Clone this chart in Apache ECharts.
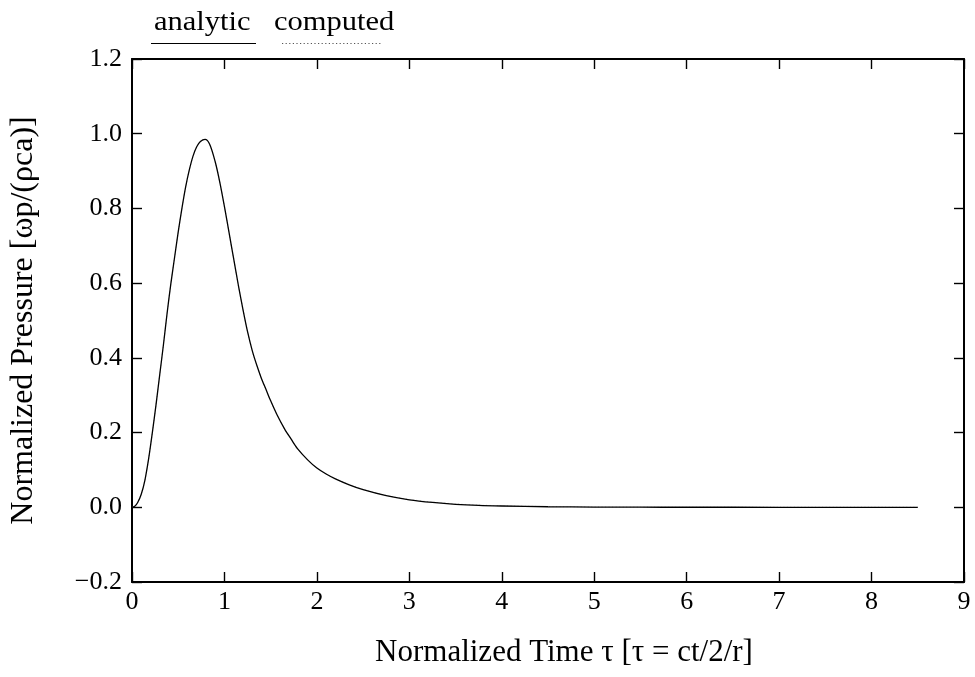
<!DOCTYPE html>
<html>
<head>
<meta charset="utf-8">
<script src="https://cdn.jsdelivr.net/npm/echarts@6/dist/echarts.min.js"></script>
<style>
html,body{margin:0;padding:0;background:#fff;}
#chart{width:975px;height:677px;}
</style>
</head>
<body>
<div id="chart"></div>
<script>
// Normalized time values (x)
var tau = [0, 0.03, 0.06, 0.10, 0.14, 0.18, 0.22, 0.26, 0.30, 0.34, 0.38, 0.42, 0.46, 0.50, 0.54, 0.58, 0.62, 0.66, 0.70, 0.74, 0.79, 0.84, 0.90, 0.95, 1.00, 1.05, 1.10, 1.15, 1.20, 1.25, 1.30, 1.35, 1.40, 1.45, 1.50, 1.57, 1.65, 1.72, 1.79, 1.90, 2.00, 2.10, 2.20, 2.35, 2.50, 2.75, 3.00, 3.25, 3.50, 3.75, 4.00, 4.50, 5.00, 5.50, 6.00, 7.00, 8.00, 8.50];
// Analytic normalized pressure
var analyticP = [0, 0.003, 0.012, 0.035, 0.073, 0.13, 0.2, 0.275, 0.355, 0.435, 0.52, 0.598, 0.668, 0.737, 0.8, 0.857, 0.903, 0.94, 0.965, 0.979, 0.985, 0.972, 0.925, 0.87, 0.805, 0.735, 0.665, 0.595, 0.53, 0.47, 0.42, 0.38, 0.345, 0.315, 0.285, 0.247, 0.21, 0.183, 0.157, 0.127, 0.105, 0.089, 0.076, 0.06, 0.047, 0.031, 0.02, 0.013, 0.008, 0.005, 0.0035, 0.0015, 0.0006, 0.0002, 0.0001, 0, 0, 0];
// Computed normalized pressure (overlaps the analytic curve)
var computedP = [0, 0.003, 0.012, 0.035, 0.073, 0.13, 0.2, 0.275, 0.355, 0.435, 0.52, 0.598, 0.668, 0.737, 0.8, 0.857, 0.903, 0.94, 0.965, 0.979, 0.985, 0.972, 0.925, 0.87, 0.805, 0.735, 0.665, 0.595, 0.53, 0.47, 0.42, 0.38, 0.345, 0.315, 0.285, 0.247, 0.21, 0.183, 0.157, 0.127, 0.105, 0.089, 0.077, 0.061, 0.048, 0.032, 0.021, 0.014, 0.009, 0.006, 0.004, 0.002, 0.0009, 0.0004, 0.0003, 0.0003, 0.0003, 0.0002];
var seriesNames = ['analytic', 'computed'];
var xName = 'Normalized Time \u03c4 [\u03c4 = ct/2/r]';
var yName = 'Normalized Pressure [\u03c9p/(\u03c1ca)]';

var FONT = 'Liberation Serif';
var chart = echarts.init(document.getElementById('chart'), null, {renderer: 'canvas'});

function pairs(ys) { return tau.map(function (t, i) { return [t, ys[i]]; }); }
function yFmt(v) {
  var s = (Math.abs(v) < 1e-9 ? 0 : v).toFixed(1);
  return s.replace('-', '\u2212');
}
var axisLineStyle = {show: true, onZero: false, lineStyle: {color: '#000', width: 2}};
var tickStyle = {show: true, inside: true, length: 10, lineStyle: {color: '#000', width: 1.4}};

var option = {
  animation: false,
  backgroundColor: '#ffffff',
  grid: {left: 131, right: 11, top: 59, bottom: 95},
  xAxis: [{
    type: 'value', min: 0, max: 9, interval: 1, position: 'bottom',
    axisLine: axisLineStyle, axisTick: tickStyle, splitLine: {show: false},
    axisLabel: {color: '#000', fontFamily: FONT, fontSize: 26, margin: 7},
    name: xName, nameLocation: 'middle', nameGap: 55,
    nameTextStyle: {color: '#000', fontFamily: FONT, fontSize: 31, verticalAlign: 'top', padding: [0, 0, 0, 32]}
  }, {
    type: 'value', min: 0, max: 9, interval: 1, position: 'top',
    axisLine: axisLineStyle, axisTick: tickStyle, splitLine: {show: false},
    axisLabel: {show: false}
  }],
  yAxis: [{
    type: 'value', min: -0.2, max: 1.2, interval: 0.2, position: 'left',
    axisLine: axisLineStyle, axisTick: tickStyle, splitLine: {show: false},
    axisLabel: {color: '#000', fontFamily: FONT, fontSize: 26, margin: 10, formatter: yFmt},
    name: yName, nameLocation: 'middle', nameGap: 92,
    nameTextStyle: {color: '#000', fontFamily: FONT, fontSize: 32}
  }, {
    type: 'value', min: -0.2, max: 1.2, interval: 0.2, position: 'right',
    axisLine: axisLineStyle, axisTick: tickStyle, splitLine: {show: false},
    axisLabel: {show: false}
  }],
  series: [{
    name: seriesNames[1], type: 'line', data: pairs(computedP),
    showSymbol: false, smooth: 0.3,
    lineStyle: {color: '#aaa', width: 0.8, type: [1, 2.5]}, z: 2
  }, {
    name: seriesNames[0], type: 'line', data: pairs(analyticP),
    showSymbol: false, smooth: 0.3,
    lineStyle: {color: '#000', width: 1.3, type: 'solid'}, z: 3
  }],
  graphic: [
    {type: 'text', left: 154, top: 9, scaleX: 1.09, style: {text: seriesNames[0], fontFamily: FONT, fontSize: 28, fill: '#000'}},
    {type: 'line', shape: {x1: 151, y1: 43.5, x2: 256, y2: 43.5}, style: {stroke: '#000', lineWidth: 1.2}},
    {type: 'text', left: 274, top: 9, scaleX: 1.09, style: {text: seriesNames[1], fontFamily: FONT, fontSize: 28, fill: '#000'}},
    {type: 'line', shape: {x1: 282, y1: 43.5, x2: 382, y2: 43.5}, style: {stroke: '#555', lineWidth: 1.2, lineDash: [1.2, 2.4]}}
  ]
};
chart.setOption(option);
</script>
</body>
</html>
